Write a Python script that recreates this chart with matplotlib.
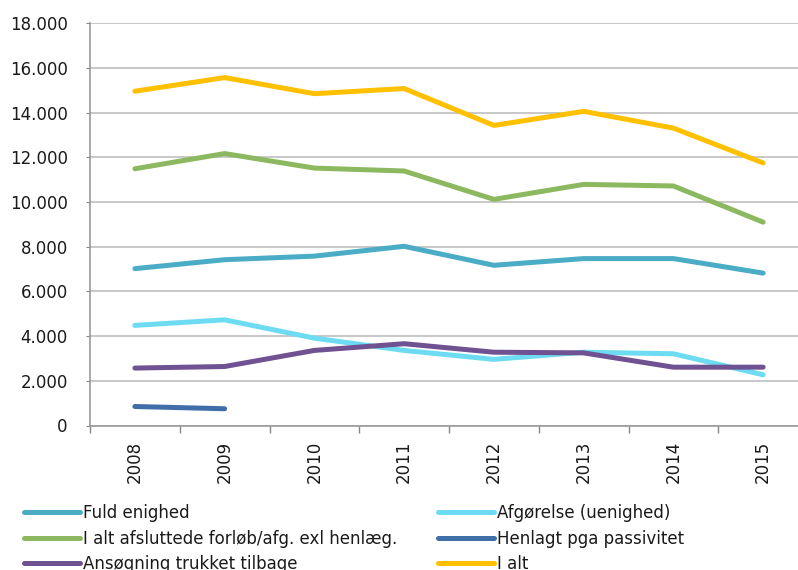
import matplotlib
matplotlib.use('Agg')
import matplotlib.pyplot as plt
import matplotlib.ticker as mticker
import numpy as np

# Data
years = ['2008', '2009', '2010', '2011', '2012', '2013', '2014', '2015']
fuld_enighed = [7020, 7420, 7580, 8020, 7170, 7470, 7470, 6820]
afgoerelse = [4480, 4730, 3910, 3360, 2960, 3280, 3210, 2270]
i_alt_afsluttede = [11490, 12170, 11520, 11390, 10120, 10790, 10720, 9100]
henlagt = [850, 750, np.nan, np.nan, np.nan, np.nan, np.nan, np.nan]
ansoegning = [2570, 2640, 3360, 3660, 3280, 3250, 2610, 2610]
i_alt = [14960, 15570, 14850, 15080, 13430, 14060, 13310, 11750]

labels = ['Fuld enighed', 'Afgørelse (uenighed)',
          'I alt afsluttede forløb/afg. exl henlæg.', 'Henlagt pga passivitet',
          'Ansøgning trukket tilbage', 'I alt']
colors = ['#4BACC6', '#6DDCF2', '#8CB860', '#3F6FA8', '#6F5291', '#FFC000']
series = [fuld_enighed, afgoerelse, i_alt_afsluttede, henlagt, ansoegning, i_alt]

plt.rcParams['font.family'] = ['DejaVu Sans']
plt.rcParams['text.color'] = '#1A1A1A'

fig = plt.figure(figsize=(7.98, 5.70), dpi=100)
ax = fig.add_axes([90 / 798, 1 - 425.5 / 570, 718 / 798, (425.5 - 23.3) / 570])

x = np.arange(len(years))
handles = []
for vals, lab, col in zip(series, labels, colors):
    h, = ax.plot(x, vals, color=col, linewidth=3.6, label=lab,
                 solid_capstyle='round', solid_joinstyle='round', zorder=3)
    handles.append(h)

ax.set_xlim(-0.5, len(years) - 0.5)
ax.set_ylim(0, 18000)
ax.set_yticks(np.arange(0, 18001, 2000))
ax.yaxis.set_major_formatter(mticker.FuncFormatter(
    lambda v, p: '{:,.0f}'.format(v).replace(',', '.')))

ax.set_xticks(x)
ax.set_xticklabels(years, rotation=90)
ax.set_xticks(np.arange(-0.5, len(years)), minor=True)
ax.tick_params(axis='x', which='major', length=0, pad=11, labelsize=12,
               labelcolor='#1A1A1A')
ax.tick_params(axis='x', which='minor', length=5, color='#888888', width=1)
ax.tick_params(axis='y', length=3, color='#888888', pad=13, labelsize=12,
               labelcolor='#1A1A1A')

ax.grid(axis='y', color='#BFBFBF', linewidth=1.2)
ax.set_axisbelow(True)
for side in ['top', 'right']:
    ax.spines[side].set_visible(False)
ax.spines['left'].set_color('#999999')
ax.spines['bottom'].set_color('#999999')
ax.spines['left'].set_linewidth(1.2)
ax.spines['bottom'].set_linewidth(1.2)

# legend: row-major order in the reference, matplotlib fills columns first
order = [0, 2, 4, 1, 3, 5]
fig.legend([handles[i] for i in order], [labels[i] for i in order],
           loc='upper left', bbox_to_anchor=(24 / 798, 1 - 504 / 570),
           ncol=2, frameon=False, fontsize=12, borderpad=0, borderaxespad=0,
           handlelength=3.35, handletextpad=0.18, columnspacing=2.45,
           labelspacing=0.45)

fig.savefig('out.png', dpi=100, facecolor='white')
